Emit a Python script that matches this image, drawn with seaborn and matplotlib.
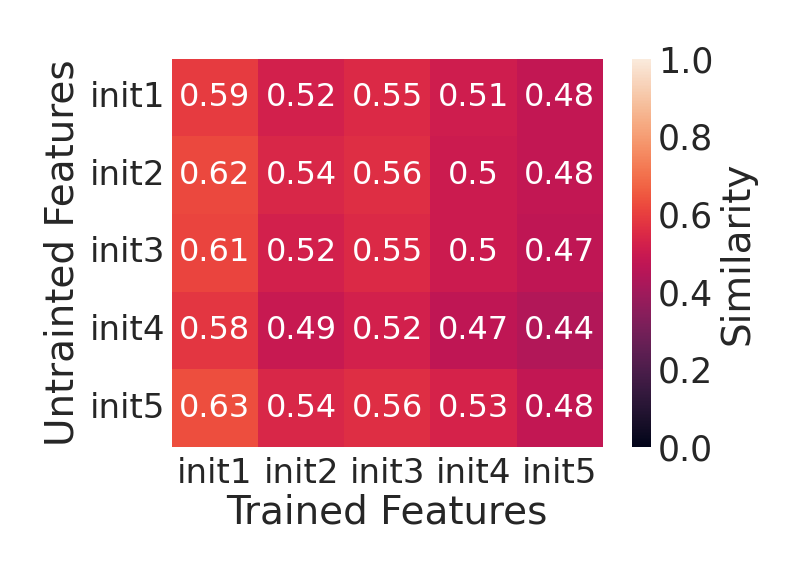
import numpy as np
import pandas as pd
import seaborn as sns
import matplotlib
matplotlib.use("Agg")
import matplotlib.pyplot as plt

### labels and similarity values
trained = ["init1", "init2", "init3", "init4", "init5"]
untrained = ["init1", "init2", "init3", "init4", "init5"]

row_init1 = [0.59, 0.52, 0.55, 0.51, 0.48]
row_init2 = [0.62, 0.54, 0.56, 0.50, 0.48]
row_init3 = [0.61, 0.52, 0.55, 0.50, 0.47]
row_init4 = [0.58, 0.49, 0.52, 0.47, 0.44]
row_init5 = [0.63, 0.54, 0.56, 0.53, 0.48]

df_sim = pd.DataFrame([row_init1, row_init2, row_init3, row_init4, row_init5],
                      index=untrained, columns=trained)

sns.set(font_scale=2.0)
sns.set_style("white")

fig = plt.figure(figsize=(7.92, 5.76), dpi=100)
ax = fig.add_axes([0.217, 0.224, 0.544, 0.674])
cax = fig.add_axes([0.798, 0.224, 0.024, 0.674])

sns.heatmap(df_sim, vmin=0, vmax=1, annot=True, annot_kws={"size": 23},
            cmap="rocket", ax=ax, cbar_ax=cax,
            cbar_kws={"label": "Similarity"})

ax.set_xlabel("Trained Features", fontsize=28, labelpad=3)
ax.set_ylabel("Untrainted Features", fontsize=28, labelpad=6)
ax.tick_params(axis="x", labelsize=24.5, length=0, pad=7)
ax.tick_params(axis="y", labelsize=24.5, length=0, pad=4.5)
ax.set_yticklabels(ax.get_yticklabels(), rotation=0)
cax.tick_params(labelsize=25, length=0, pad=5)
cax.yaxis.label.set_size(28)

fig.savefig("out.png", dpi=100)
